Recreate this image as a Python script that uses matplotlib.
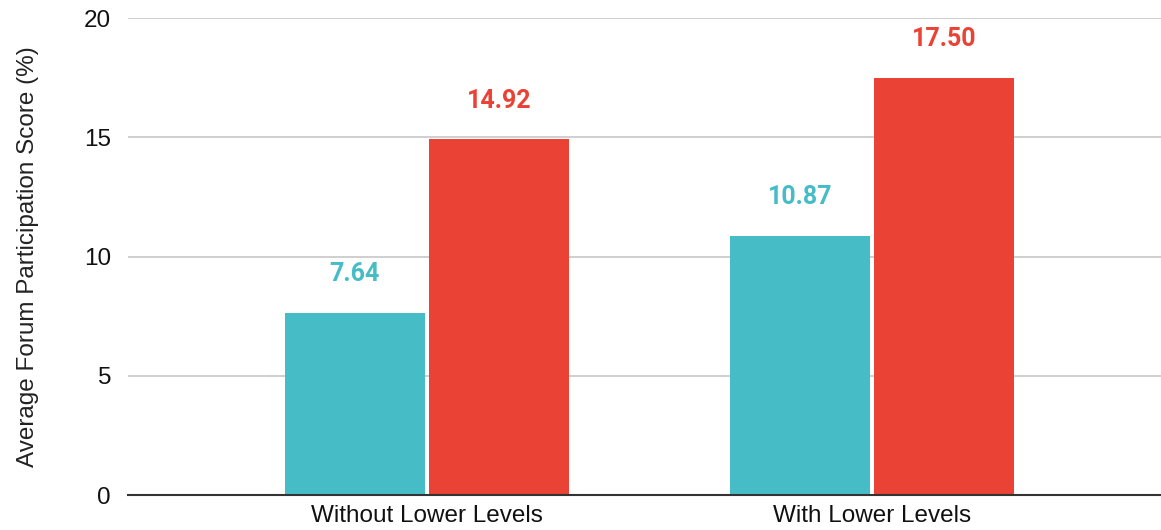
import numpy as np
import matplotlib
matplotlib.use("Agg")
import matplotlib.pyplot as plt

categories = ["Without Lower Levels", "With Lower Levels"]
series_a = [7.64, 10.87]
series_b = [14.92, 17.50]
colors = ["#46BDC6", "#EA4335"]

plt.rcParams["font.family"] = ["Liberation Sans", "DejaVu Sans"]

fig = plt.figure(figsize=(11.61, 5.30), dpi=100)
ax = fig.add_axes([0.110, 0.066, 0.890, 0.900])

x = np.arange(len(categories))
w = 0.315
off = 0.162
for vals, dx, c in [(series_a, -off, colors[0]), (series_b, off, colors[1])]:
    bars = ax.bar(x + dx, vals, width=w, color=c, zorder=3)
    for b, v in zip(bars, vals):
        ax.annotate(f"{v:.2f}", (b.get_x() + b.get_width() / 2, v),
                    xytext=(0, 19), textcoords="offset points",
                    ha="center", va="bottom", color=c, fontsize=18,
                    fontweight="bold", family=["Roboto", "DejaVu Sans"])

ax.set_xlim(-0.672, 1.649)
ax.set_ylim(0, 20)
ax.set_yticks([0, 5, 10, 15, 20])
ax.set_xticks(x)
ax.set_xticklabels(categories)
ax.grid(axis="y", color="#cccccc", linewidth=1.3, zorder=0)
ax.tick_params(axis="both", length=0, labelsize=17.5, colors="#111111")
ax.tick_params(axis="y", pad=12)
ax.tick_params(axis="x", pad=7)
for s in ["top", "right", "left"]:
    ax.spines[s].set_visible(False)
ax.spines["bottom"].set_color("#333333")
ax.spines["bottom"].set_linewidth(1.5)
ax.spines["bottom"].set_zorder(4)
ax.set_ylabel("Average Forum Participation Score (%)", fontsize=17.5,
              color="#222222", labelpad=32)

fig.savefig("out.png")
